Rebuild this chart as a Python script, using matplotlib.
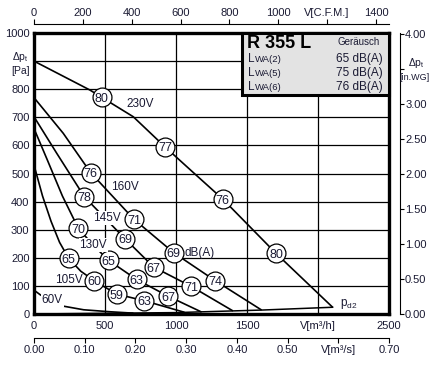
import matplotlib
matplotlib.use('Agg')
import matplotlib.pyplot as plt
from matplotlib.patches import Rectangle

plt.rcParams['font.family'] = ['Liberation Sans', 'DejaVu Sans']
plt.rcParams['mathtext.fontset'] = 'custom'
plt.rcParams['mathtext.rm'] = 'Liberation Sans'
plt.rcParams['mathtext.it'] = 'Liberation Sans:italic'
plt.rcParams['mathtext.bf'] = 'Liberation Sans:bold'

# ---------------- data ----------------
# fan curves: volume flow V [m3/h] vs total pressure dp_t [Pa]
q_230 = [0, 394, 477, 699, 922, 1125, 1329, 1704, 2103]
p_230 = [900, 797, 771, 702, 595, 502, 409, 216, 24]
q_160 = [0, 206, 399, 704, 984, 1275, 1603]
p_160 = [770, 643, 503, 337, 218, 119, 14]
q_145 = [0, 160, 355, 512, 640, 843, 1108, 1401]
p_145 = [702, 572, 417, 335, 268, 167, 98, 11]
q_130 = [0, 94, 200, 312, 417, 525, 722, 946, 1180]
p_130 = [660, 548, 420, 305, 245, 191, 123, 63, 7]
q_105 = [0, 60, 120, 180, 244, 330, 426, 581, 778, 1060]
p_105 = [530, 420, 330, 255, 198, 152, 118, 71, 47, 6]
q_60 = [0, 45, 89, 206, 350, 535, 700]
p_60 = [85, 68, 56, 28, 15, 8, 3]
q_pd2 = [0, 1000, 1401, 1603, 2103]
p_pd2 = [0, 5, 11, 14, 24]

# sound level markers (dB(A)) on the curves
mark_q = [477, 922, 1329, 1704,
          399, 704, 984, 1275,
          355, 640, 843, 1108,
          312, 525, 722, 946,
          244, 426, 581, 778]
mark_p = [771, 595, 409, 216,
          503, 337, 218, 119,
          417, 268, 167, 98,
          305, 191, 123, 63,
          198, 118, 71, 47]
mark_db = [80, 77, 76, 80,
           76, 71, 69, 74,
           78, 69, 67, 71,
           70, 65, 63, 67,
           65, 60, 59, 63]

volt_labels = ['230V', '160V', '145V', '130V', '105V', '60V']
volt_q = [746, 641, 511, 417, 246, 129]
volt_p = [747, 451, 341, 246, 121, 50]
volt_masked = [False, False, True, True, False, True]

x_ticks = [0, 500, 1000, 1500, 2000, 2500]
x_labels = ['0', '500', '1000', '1500', 'V[m³/h]', '2500']
y_ticks = [0, 100, 200, 300, 400, 500, 600, 700, 800, 900, 1000]
y_labels = ['0', '100', '200', '300', '400', '500', '600', '700', '800',
            '$\\mathregular{Δp_t}$\n[Pa]', '1000']
cfm_ticks = [0, 200, 400, 600, 800, 1000, 1200, 1400]
cfm_labels = ['0', '200', '400', '600', '800', '1000', 'V[C.F.M.]', '1400']
m3s_ticks = [0.0, 0.1, 0.2, 0.3, 0.4, 0.5, 0.6, 0.7]
m3s_labels = ['0.00', '0.10', '0.20', '0.30', '0.40', '0.50', 'V[m³/s]', '0.70']
inwg_ticks = [0.0, 0.5, 1.0, 1.5, 2.0, 2.5, 3.0, 3.5, 4.0]
inwg_labels = ['0.00', '0.50', '1.00', '1.50', '2.00', '2.50', '3.00',
               '', '4.00']
inwg_unit = ['$\\mathregular{Δp_t}$', '[in.WG]']

box_title = 'R 355 L'
box_head = 'Geräusch'
box_rows = ['WA(2)', 'WA(5)', 'WA(6)']
box_vals = ['65 dB(A)', '75 dB(A)', '76 dB(A)']

M3H_PER_CFM = 1.72
PA_PER_INWG = 249.1

# ---------------- layout ----------------
TXT = '#1a1a33'
W, H = 434, 366
L, R, T, B = 34, 389, 33, 314

fig = plt.figure(figsize=(W / 100, H / 100), dpi=100)
ax = fig.add_axes([L / W, 1 - B / H, (R - L) / W, (B - T) / H])
ax.set_xlim(0, 2500)
ax.set_ylim(0, 1000)

def fx(px):
    return (px - L) / (R - L)

def fy(py):
    return (B - py) / (B - T)

ax.set_xticks(x_ticks)
ax.set_xticklabels(x_labels)
ax.set_yticks(y_ticks)
ax.set_yticklabels(y_labels, multialignment='center')
ax.grid(True, color='black', linewidth=0.9)
ax.set_axisbelow(True)
ax.tick_params(axis='x', length=0, pad=5.0, labelsize=8, labelcolor=TXT)
ax.tick_params(axis='y', length=0, pad=3.2, labelsize=8, labelcolor=TXT)
ax.get_yticklabels()[9].set_fontsize(7.5)
for s in ax.spines.values():
    s.set_linewidth(2.4)

curves = [(q_230, p_230), (q_160, p_160), (q_145, p_145),
          (q_130, p_130), (q_105, p_105), (q_60, p_60)]
for q, p in curves:
    ax.plot(q, p, color='black', lw=1.2, zorder=3, solid_joinstyle='round',
            solid_capstyle='butt')
ax.plot(q_pd2, p_pd2, color='black', lw=1.1, zorder=3)

ax.scatter(mark_q, mark_p, s=185, facecolor='white', edgecolor='black',
           linewidth=0.9, zorder=4)
for q, p, d in zip(mark_q, mark_p, mark_db):
    ax.text(q, p, str(d), ha='center', va='center_baseline', fontsize=9,
            color=TXT, zorder=5)

for lab, q, p, m in zip(volt_labels, volt_q, volt_p, volt_masked):
    bb = dict(facecolor='white', edgecolor='none', pad=0.5) if m else None
    ax.text(q, p, lab, ha='center', va='center', fontsize=8.5, color=TXT,
            zorder=5, bbox=bb)

ax.text(1169, 216, 'dB(A)', ha='center', va='center', fontsize=8.5,
        color=TXT, zorder=5)
ax.text(2213, 36, '$\\mathregular{p_{d2}}$', ha='center', va='center',
        fontsize=8.5, color=TXT, zorder=5)

# info box
ax.add_patch(Rectangle((fx(242), fy(95)), 1 - fx(242), 1 - fy(95),
                       transform=ax.transAxes, facecolor='#e3e3e3',
                       edgecolor='black', linewidth=2.2, zorder=6,
                       clip_on=False))
ax.text(fx(247), fy(48), box_title, transform=ax.transAxes, ha='left',
        va='baseline', fontsize=13, fontweight='bold', color='black', zorder=7)
ax.text(fx(380), fy(45), box_head, transform=ax.transAxes, ha='right',
        va='baseline', fontsize=7, color=TXT, zorder=7)
for i, (r, v) in enumerate(zip(box_rows, box_vals)):
    yy = fy(62 + 14 * i)
    ax.text(fx(248), yy, 'L', transform=ax.transAxes, ha='left',
            va='baseline', fontsize=8.5, color=TXT, zorder=7)
    ax.annotate(r, xy=(fx(248), yy), xycoords='axes fraction',
                xytext=(5.2, 0), textcoords='offset points', ha='left',
                va='baseline', fontsize=6.8, color=TXT, zorder=7)
    ax.text(fx(383), yy, v, transform=ax.transAxes, ha='right',
            va='baseline', fontsize=8.5, color=TXT, zorder=7)

# top axis: C.F.M.
axt = ax.twiny()
axt.set_xlim(0, 2500 / M3H_PER_CFM)
for s in ['left', 'right', 'bottom']:
    axt.spines[s].set_visible(False)
axt.spines['top'].set_position(('outward', 6.2))
axt.spines['top'].set_linewidth(0.8)
axt.set_xticks(cfm_ticks)
axt.set_xticklabels(cfm_labels)
axt.tick_params(axis='x', direction='out', length=3.5, width=0.8, pad=1,
                labelsize=8, labelcolor=TXT)

# bottom axis: m3/s
axb = ax.twiny()
axb.set_xlim(0, 0.70)
axb.xaxis.set_ticks_position('bottom')
axb.xaxis.set_label_position('bottom')
for s in ['left', 'right', 'top']:
    axb.spines[s].set_visible(False)
axb.spines['bottom'].set_visible(True)
axb.spines['bottom'].set_position(('outward', 17.5))
axb.spines['bottom'].set_linewidth(0.8)
axb.set_xticks(m3s_ticks)
axb.set_xticklabels(m3s_labels)
axb.tick_params(axis='x', direction='out', length=3.5, width=0.8, pad=1.5,
                labelsize=8, labelcolor=TXT)

# right axis: in.WG
axr = ax.twinx()
axr.set_ylim(0, 1000 / PA_PER_INWG)
for s in ['left', 'top', 'bottom']:
    axr.spines[s].set_visible(False)
axr.spines['right'].set_position(('outward', 7.6))
axr.spines['right'].set_linewidth(0.8)
axr.set_yticks(inwg_ticks)
axr.set_yticklabels(inwg_labels)
axr.tick_params(axis='y', direction='out', length=3, width=0.8, pad=1,
                labelsize=8, labelcolor=TXT)
fig.text(416 / W, 1 - 63 / H, inwg_unit[0], ha='center', va='center',
         fontsize=7.5, color=TXT)
fig.text(415 / W, 1 - 77 / H, inwg_unit[1], ha='center', va='center',
         fontsize=6.5, color=TXT)

fig.savefig('out.png', dpi=100)
